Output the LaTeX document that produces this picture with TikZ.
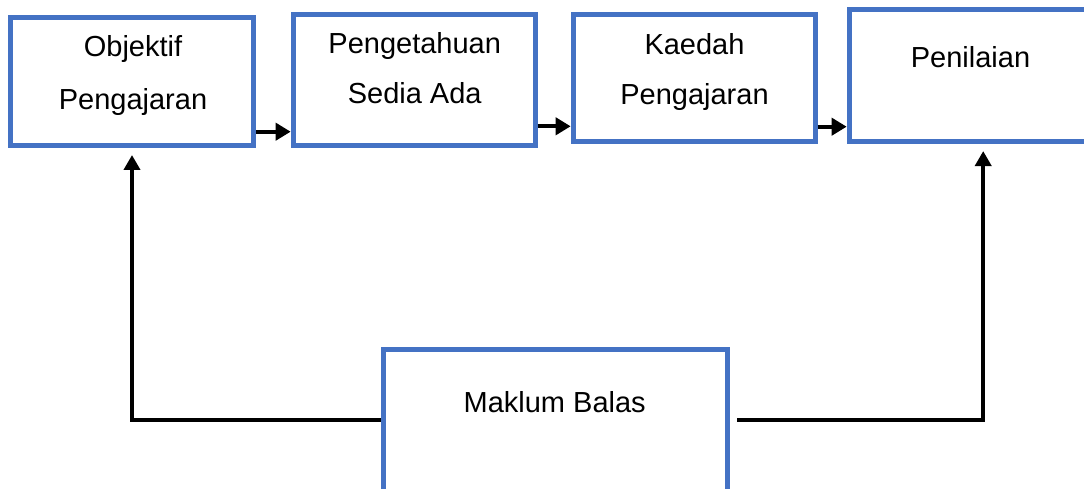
\documentclass[tikz,border=0pt]{standalone}
\usepackage{fontspec}
\setmainfont{Liberation Sans}
\usetikzlibrary{arrows.meta}
\definecolor{boxblue}{HTML}{4472C4}
\begin{document}
\begin{tikzpicture}[x=1pt,y=-1pt,
  stagebox/.style={draw=boxblue,line width=5pt,fill=white,rectangle,inner sep=0pt},
  lbl/.style={font=\fontsize{29}{50}\selectfont,align=center,anchor=base,inner sep=0pt},
  flow/.style={line width=4pt,-{Triangle[length=15pt,width=17pt]}},
  back/.style={line width=4pt,-{Triangle[length=15pt,width=16pt]}}]
\useasboundingbox (0,0) rectangle (1084,489);
\node[stagebox,minimum width=243pt,minimum height=128pt] (b1) at (132,81.5) {};
\node[stagebox,minimum width=242pt,minimum height=131.3pt] (b2) at (414.2,79.9) {};
\node[stagebox,minimum width=242pt,minimum height=127.3pt] (b3) at (694.2,77.9) {};
\node[stagebox,minimum width=242pt,minimum height=132.3pt] (b4) at (970.2,75.4) {};
\node[stagebox,minimum width=344.3pt,minimum height=180pt] (m) at (555.4,439.8) {};
\node[lbl] (t1) at (133,110) {Objektif\\[3pt]Pengajaran};
\node[lbl] (t2) at (414.7,104) {Pengetahuan\\Sedia Ada};
\node[lbl] (t3) at (694.5,104.3) {Kaedah\\Pengajaran};
\node[lbl] (t4) at (970.5,67.7) {Penilaian};
\node[lbl] (tm) at (554.7,412) {Maklum Balas};
\coordinate (rt) at ([xshift=13pt]b4.south);
\draw[flow] (b1.east |- 0,131.7) -- (b2.west |- 0,131.7);
\draw[flow] (b2.east |- 0,126.3) -- (b3.west |- 0,126.3);
\draw[flow] (b3.east |- 0,126.7) -- (b4.west |- 0,126.7);
\draw[back,shorten >=7pt] (m.west |- 0,420) -| (b1.south);
\draw[back,shorten <=7pt,shorten >=7pt] (m.east |- 0,420) -| (rt);
\end{tikzpicture}
\end{document}
